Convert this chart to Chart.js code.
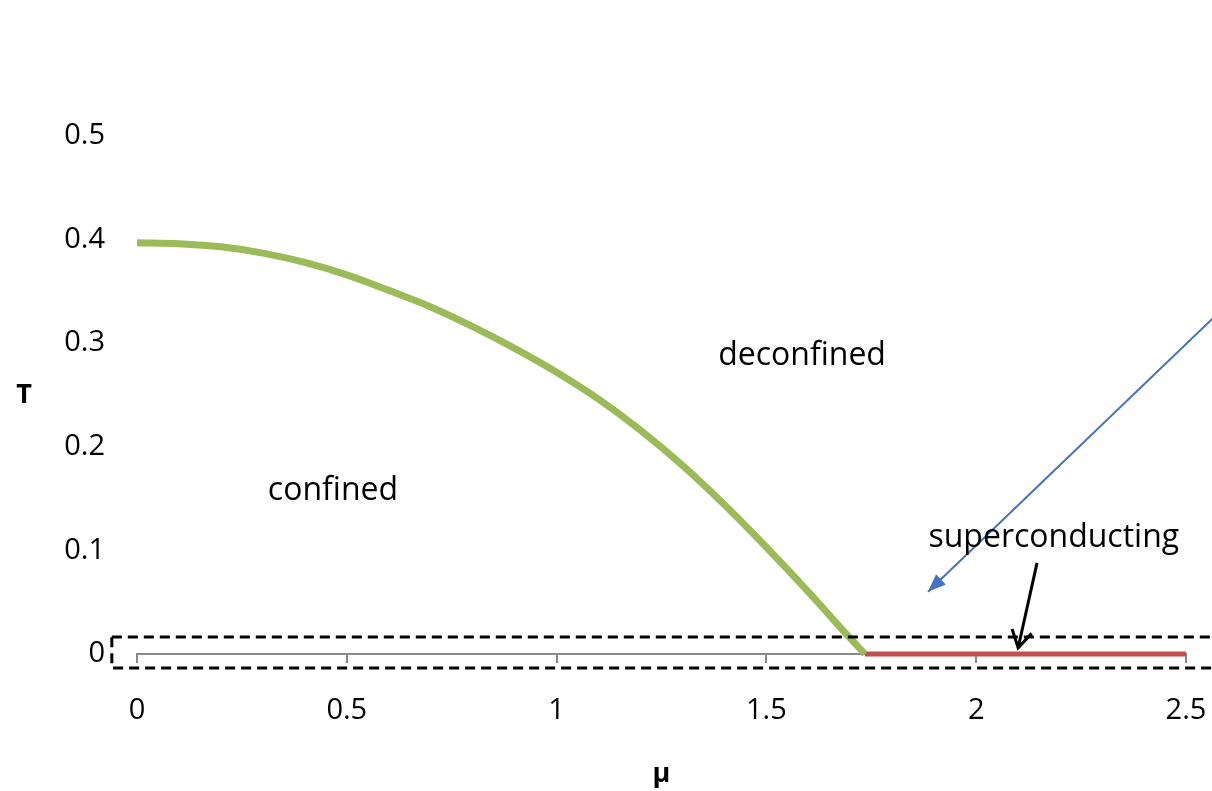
<!DOCTYPE html>
<html>
<head>
<meta charset="utf-8">
<script src="https://cdn.jsdelivr.net/npm/chart.js@4.4.0/dist/chart.umd.min.js"></script>
<style>
html,body{margin:0;padding:0;background:#fff;}
#wrap{width:1212px;height:791px;position:relative;}
</style>
</head>
<body>
<div id="wrap"><canvas id="c" width="1212" height="791"></canvas></div>
<script>
// Phase boundary (green): mu vs T
const muBoundary = [0, 0.1, 0.2, 0.3, 0.4, 0.5, 0.6, 0.7, 0.8, 0.9, 1.0, 1.1, 1.2, 1.3, 1.4, 1.5, 1.6, 1.7, 1.735];
const tBoundary  = [0.397, 0.396, 0.393, 0.387, 0.378, 0.366, 0.351, 0.335, 0.316, 0.295, 0.272, 0.246, 0.216, 0.182, 0.144, 0.103, 0.060, 0.015, 0];
// Superconducting segment (red)
const muSuper = [1.735, 2.5];
const tSuper  = [0, 0];
// Tick labels
const xTicks = [0, 0.5, 1, 1.5, 2, 2.5];
const yTicks = [0, 0.1, 0.2, 0.3, 0.4, 0.5];
// Region labels [text, mu, T]
const regionLabels = [
  ["deconfined", 1.585, 0.2875],
  ["confined", 0.467, 0.157],
  ["superconducting", 2.185, 0.1125]
];
// Annotation geometry in data units
const dashedBox = {mu0: -0.06, mu1: 2.7, t0: -0.0135, t1: 0.0165};
const blueArrow = {from: [2.6, 0.338], to: [1.885, 0.060]};
const blackArrow = {from: [2.145, 0.088], to: [2.100, 0.006]};

const FONT = "'Open Sans', 'Liberation Sans', sans-serif";

function arrowHead(ctx, x0, y0, x1, y1, len, wid, filled){
  const a = Math.atan2(y1 - y0, x1 - x0);
  const bx = x1 - len * Math.cos(a), by = y1 - len * Math.sin(a);
  const px = -Math.sin(a) * wid, py = Math.cos(a) * wid;
  ctx.beginPath();
  if (filled){
    ctx.moveTo(x1, y1); ctx.lineTo(bx + px, by + py); ctx.lineTo(bx - px, by - py); ctx.closePath(); ctx.fill();
  } else {
    ctx.moveTo(bx + px, by + py); ctx.lineTo(x1, y1); ctx.lineTo(bx - px, by - py); ctx.stroke();
  }
}

const annotations = {
  id: 'annotations',
  afterDatasetsDraw(chart){
    const {ctx, chartArea, scales:{x, y}} = chart;
    ctx.save();
    // dashed box
    ctx.strokeStyle = '#000'; ctx.lineWidth = 3; ctx.setLineDash([10, 6]);
    const bx0 = x.getPixelForValue(dashedBox.mu0), bx1 = x.getPixelForValue(dashedBox.mu1);
    const by0 = y.getPixelForValue(dashedBox.t1), by1 = y.getPixelForValue(dashedBox.t0);
    ctx.strokeRect(bx0, by0, bx1 - bx0, by1 - by0);
    ctx.setLineDash([]);
    // blue arrow
    let x0 = x.getPixelForValue(blueArrow.from[0]), y0 = y.getPixelForValue(blueArrow.from[1]);
    let x1 = x.getPixelForValue(blueArrow.to[0]), y1 = y.getPixelForValue(blueArrow.to[1]);
    ctx.strokeStyle = '#4472C4'; ctx.fillStyle = '#4472C4'; ctx.lineWidth = 2;
    ctx.beginPath(); ctx.moveTo(x0, y0); ctx.lineTo(x1, y1); ctx.stroke();
    arrowHead(ctx, x0, y0, x1, y1, 18, 7, true);
    // black arrow
    x0 = x.getPixelForValue(blackArrow.from[0]); y0 = y.getPixelForValue(blackArrow.from[1]);
    x1 = x.getPixelForValue(blackArrow.to[0]); y1 = y.getPixelForValue(blackArrow.to[1]);
    ctx.strokeStyle = '#000'; ctx.lineWidth = 3;
    ctx.beginPath(); ctx.moveTo(x0, y0); ctx.lineTo(x1, y1); ctx.stroke();
    arrowHead(ctx, x0, y0, x1, y1, 17, 10, false);
    // labels
    ctx.fillStyle = '#000'; ctx.font = '32px ' + FONT; ctx.textAlign = 'center'; ctx.textBaseline = 'middle';
    regionLabels.forEach(([t, m, v]) => ctx.fillText(t, x.getPixelForValue(m), y.getPixelForValue(v)));
    // y-axis title (horizontal, as in the reference)
    ctx.font = 'bold 27px ' + FONT;
    ctx.fillText('T', y.left + 24, (chartArea.top + chartArea.bottom) / 2);
    ctx.restore();
  }
};

new Chart(document.getElementById('c'), {
  type: 'scatter',
  data: {
    datasets: [
      {
        data: muBoundary.map((m, i) => ({x: m, y: tBoundary[i]})),
        showLine: true, borderColor: '#9BBB59', borderWidth: 7, pointRadius: 0,
        cubicInterpolationMode: 'monotone', fill: false, clip: false
      },
      {
        data: muSuper.map((m, i) => ({x: m, y: tSuper[i]})),
        showLine: true, borderColor: '#C0504D', borderWidth: 5, pointRadius: 0, fill: false, clip: false
      }
    ]
  },
  options: {
    responsive: false, animation: false,
    layout: {padding: {left: 0, right: 26, top: 136, bottom: 0}},
    plugins: {legend: {display: false}, tooltip: {enabled: false}},
    scales: {
      x: {
        type: 'linear', min: 0, max: 2.5,
        afterBuildTicks(a){ a.ticks = xTicks.map(v => ({value: v})); },
        afterFit(s){ s.height = 137; s.paddingLeft = 0; s.paddingRight = 0; },
        ticks: {color: '#000', font: {family: FONT, size: 29}, padding: 30, maxRotation: 0, callback: v => String(v)},
        grid: {display: true, drawOnChartArea: false, drawTicks: true, tickLength: 9, color: '#898989', lineWidth: 2},
        border: {display: true, color: '#898989', width: 2},
        title: {display: true, text: 'μ', color: '#000', font: {family: FONT, size: 27, weight: 'bold'}, padding: {top: 0, bottom: 0}}
      },
      y: {
        type: 'linear', min: 0, max: 0.5,
        afterBuildTicks(a){ a.ticks = yTicks.map(v => ({value: v})); },
        afterFit(s){ s.width = 137; },
        ticks: {color: '#000', font: {family: FONT, size: 29}, padding: 32, callback: v => String(v)},
        grid: {display: false, drawTicks: false},
        border: {display: false}
      }
    }
  },
  plugins: [annotations]
});
</script>
</body>
</html>
